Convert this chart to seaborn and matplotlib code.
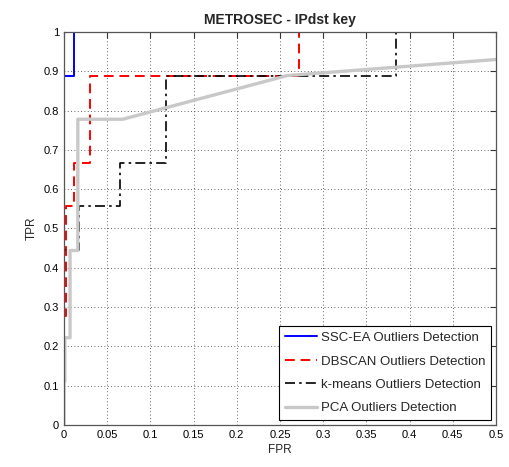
import numpy as np
import pandas as pd
import seaborn as sns
from matplotlib import pyplot as plt

# ROC vertices (FPR, TPR)
ssc_fpr = [0, 0, 0.0116, 0.0116, 0.5]
ssc_tpr = [0, 0.889, 0.889, 1, 1]

dbscan_fpr = [0, 0, 0.002, 0.002, 0.011, 0.011, 0.030, 0.030, 0.272, 0.272, 0.5]
dbscan_tpr = [0, 0.278, 0.278, 0.556, 0.556, 0.667, 0.667, 0.889, 0.889, 1, 1]

kmeans_fpr = [0, 0, 0.017, 0.017, 0.065, 0.065, 0.118, 0.118, 0.384, 0.384, 0.5]
kmeans_tpr = [0, 0.444, 0.444, 0.556, 0.556, 0.667, 0.667, 0.889, 0.889, 1, 1]

pca_fpr = [0, 0, 0.001, 0.001, 0.007, 0.007, 0.016, 0.016, 0.068, 0.258, 0.5]
pca_tpr = [0, 0.111, 0.111, 0.222, 0.222, 0.444, 0.444, 0.778, 0.778, 0.889, 0.93]

names = ['SSC-EA Outliers Detection', 'DBSCAN Outliers Detection',
         'k-means Outliers Detection', 'PCA Outliers Detection']

sns.set_style('white')
plt.rcParams['font.family'] = ['Liberation Sans', 'DejaVu Sans']

fig = plt.figure(figsize=(5.1, 4.67), dpi=100)
ax = fig.add_axes([0.1255, 0.09, 0.847, 0.8415])

curves = [
    (ssc_fpr, ssc_tpr, dict(color='#0000ff', lw=1.4, ls='-')),
    (dbscan_fpr, dbscan_tpr, dict(color='#ff0000', lw=1.4, ls=(0, (5, 3)))),
    (kmeans_fpr, kmeans_tpr, dict(color='black', lw=1.2, ls=(0, (6, 2.5, 1.5, 2.5)))),
    (pca_fpr, pca_tpr, dict(color='#c8c8c8', lw=2.4, ls='-')),
]
for (fx, ty, style), name in zip(curves, names):
    df = pd.DataFrame({'FPR': fx, 'TPR': ty})
    sns.lineplot(data=df, x='FPR', y='TPR', sort=False, estimator=None,
                 ax=ax, label=name, **style)

ax.set_xlim(0, 0.5)
ax.set_ylim(0, 1)
ax.set_xticks(np.arange(0, 0.501, 0.05))
ax.set_yticks(np.arange(0, 1.001, 0.1))
ax.set_xticklabels(['0', '0.05', '0.1', '0.15', '0.2', '0.25', '0.3', '0.35', '0.4', '0.45', '0.5'])
ax.set_yticklabels(['0', '0.1', '0.2', '0.3', '0.4', '0.5', '0.6', '0.7', '0.8', '0.9', '1'])
ax.tick_params(direction='in', length=4, width=0.8, colors='#333333', labelsize=8,
               top=True, right=True, labelcolor='black')
ax.grid(True, ls=(0, (1, 3)), color='#333333', lw=0.6)
for s in ax.spines.values():
    s.set_color('#555555')
    s.set_linewidth(0.9)

ax.set_xlabel('FPR', fontsize=8.5, labelpad=3)
ax.set_ylabel('TPR', fontsize=8.5, labelpad=4)
ax.set_title('METROSEC - IPdst key', fontsize=10, fontweight='bold', pad=6)

leg = ax.legend(loc='lower right', fontsize=9.5, frameon=True, fancybox=False,
                edgecolor='black', framealpha=1, borderaxespad=0.35,
                handlelength=2.4, handletextpad=0.3, labelspacing=0.85,
                borderpad=0.45)
leg.get_frame().set_linewidth(0.8)

fig.savefig('out.png', dpi=100)
